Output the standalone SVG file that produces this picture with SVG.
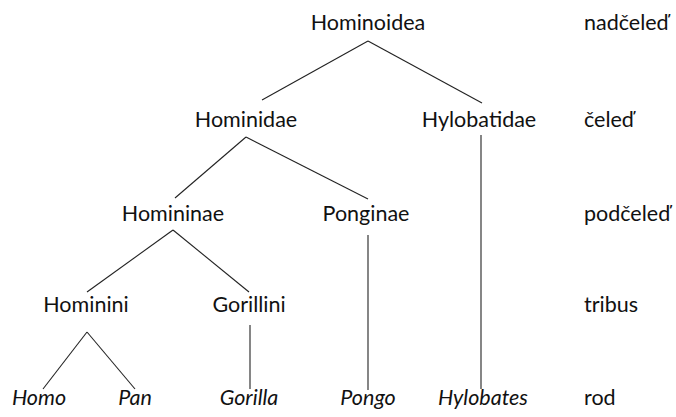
<svg xmlns="http://www.w3.org/2000/svg" width="676" height="417" viewBox="0 0 676 417">
<style>
text{font-family:Lato,"Open Sans","Liberation Sans",sans-serif;font-size:21.5px;fill:#111;text-anchor:middle}
.g{font-style:italic}
.r{text-anchor:start}
line{stroke:#222;stroke-width:1.1}
</style>
<rect width="676" height="417" fill="#fff"/>
<g id="connectors">
<line x1="368" y1="41" x2="262" y2="100"/>
<line x1="368" y1="41" x2="482" y2="103"/>
<line x1="246" y1="137" x2="175" y2="198"/>
<line x1="246" y1="137" x2="368" y2="199"/>
<line x1="481" y1="135" x2="481" y2="389"/>
<line x1="173" y1="230" x2="87" y2="292"/>
<line x1="173" y1="230" x2="249" y2="292"/>
<line x1="368" y1="235" x2="368" y2="390"/>
<line x1="87" y1="332" x2="43" y2="389"/>
<line x1="87" y1="332" x2="135" y2="389"/>
<line x1="250" y1="325" x2="250" y2="389"/>
</g>
<g id="hominoidea"><text x="368" y="30">Hominoidea</text></g>
<g id="hominidae"><text x="246" y="127">Hominidae</text></g>
<g id="hylobatidae"><text x="479" y="127">Hylobatidae</text></g>
<g id="homininae"><text x="173" y="221">Homininae</text></g>
<g id="ponginae"><text x="366" y="221">Ponginae</text></g>
<g id="hominini"><text x="86" y="312">Hominini</text></g>
<g id="gorillini"><text x="249" y="312">Gorillini</text></g>
<g id="homo"><text class="g" x="39" y="405">Homo</text></g>
<g id="pan"><text class="g" x="135" y="405">Pan</text></g>
<g id="gorilla"><text class="g" x="249" y="405">Gorilla</text></g>
<g id="pongo"><text class="g" x="368" y="405">Pongo</text></g>
<g id="hylobates"><text class="g" x="483" y="405">Hylobates</text></g>
<g id="ranks">
<text class="r" x="584" y="30">nadčeleď</text>
<text class="r" x="584" y="127">čeleď</text>
<text class="r" x="584" y="221">podčeleď</text>
<text class="r" x="584" y="312">tribus</text>
<text class="r" x="584" y="405">rod</text>
</g>
</svg>
